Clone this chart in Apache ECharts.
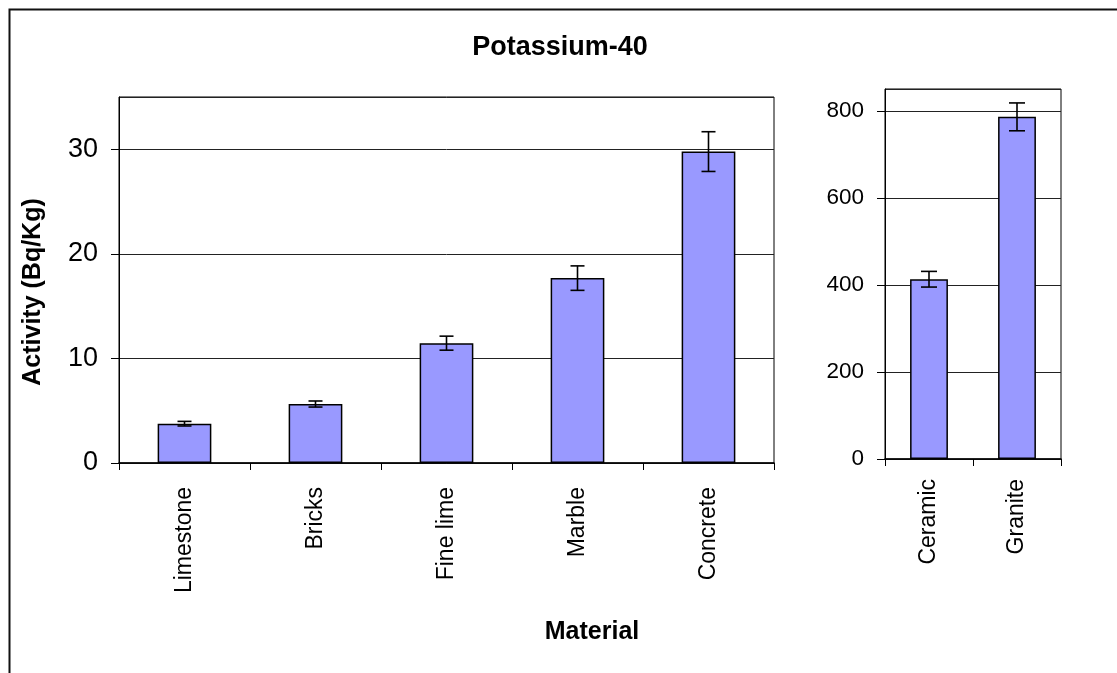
<!DOCTYPE html>
<html>
<head>
<meta charset="utf-8">
<script src="https://cdn.jsdelivr.net/npm/echarts@6/dist/echarts.min.js"></script>
<style>
html,body{margin:0;padding:0;background:#fff;}
#c{width:1117px;height:673px;}
</style>
</head>
<body>
<div id="c"></div>
<script>
const leftCategories = ['Limestone', 'Bricks', 'Fine lime', 'Marble', 'Concrete'];
const leftValues = [3.76, 5.64, 11.46, 17.68, 29.78];
const leftErrors = [0.22, 0.29, 0.67, 1.17, 1.9];
const rightCategories = ['Ceramic', 'Granite'];
const rightValues = [413, 786];
const rightErrors = [18, 32];
const titleText = 'Potassium-40';
const xTitle = 'Material';
const yTitle = 'Activity (Bq/Kg)';

const FONT = '"Liberation Sans", Arial, sans-serif';
const BAR = '#9999FF';

function errorItem(capHalf) {
  return function (params, api) {
    const i = api.value(0), v = api.value(1), e = api.value(2);
    const top = api.coord([i, v + e]);
    const bot = api.coord([i, v - e]);
    const x = top[0];
    const style = { stroke: '#000', lineWidth: 1.6 };
    return {
      type: 'group',
      children: [
        { type: 'line', shape: { x1: x, y1: top[1], x2: x, y2: bot[1] }, style },
        { type: 'line', shape: { x1: x - capHalf, y1: top[1], x2: x + capHalf, y2: top[1] }, style },
        { type: 'line', shape: { x1: x - capHalf, y1: bot[1], x2: x + capHalf, y2: bot[1] }, style }
      ]
    };
  };
}

function valueAxis(gridIndex, max, interval, fontSize, margin) {
  return {
    type: 'value', gridIndex, min: 0, max, interval,
    axisLine: { show: true, lineStyle: { color: '#000', width: 1 } },
    axisTick: { show: true, inside: false, length: 8, lineStyle: { color: '#000' } },
    axisLabel: { color: '#000', fontSize, fontFamily: FONT, margin, showMaxLabel: false },
    splitLine: { show: true, lineStyle: { color: '#222', width: 1 } }
  };
}

function catAxis(gridIndex, data, margin) {
  return {
    type: 'category', gridIndex, data,
    axisLine: { show: true, lineStyle: { color: '#000', width: 1.5 } },
    axisTick: { show: true, alignWithLabel: false, length: 7, lineStyle: { color: '#000' } },
    axisLabel: { color: '#000', fontSize: 23, fontFamily: FONT, rotate: 90, margin, interval: 0 },
    splitLine: { show: false }
  };
}

const chart = echarts.init(document.getElementById('c'), null, { renderer: 'canvas' });
chart.setOption({
  backgroundColor: '#fff',
  animation: false,
  grid: [
    { left: 119, top: 97, width: 655, height: 366, show: true, borderColor: '#000', borderWidth: 1, backgroundColor: '#fff' },
    { left: 885, top: 89, width: 176, height: 370, show: true, borderColor: '#000', borderWidth: 1, backgroundColor: '#fff' }
  ],
  xAxis: [catAxis(0, leftCategories, 24), catAxis(1, rightCategories, 20)],
  yAxis: [valueAxis(0, 35, 10, 27, 21), valueAxis(1, 850, 200, 22.5, 21)],
  series: [
    {
      type: 'bar', xAxisIndex: 0, yAxisIndex: 0, data: leftValues, barWidth: '41%',
      itemStyle: { color: BAR, borderColor: '#000', borderWidth: 1.5 }
    },
    {
      type: 'custom', xAxisIndex: 0, yAxisIndex: 0,
      data: leftValues.map((v, i) => [i, v, leftErrors[i]]),
      renderItem: errorItem(7), z: 5
    },
    {
      type: 'bar', xAxisIndex: 1, yAxisIndex: 1, data: rightValues, barWidth: '43%',
      itemStyle: { color: BAR, borderColor: '#000', borderWidth: 1.5 }
    },
    {
      type: 'custom', xAxisIndex: 1, yAxisIndex: 1,
      data: rightValues.map((v, i) => [i, v, rightErrors[i]]),
      renderItem: errorItem(8), z: 5
    }
  ],
  graphic: [
    { type: 'rect', left: 7, top: 7, shape: { width: 1130, height: 700 }, style: { fill: 'none', stroke: '#111', lineWidth: 2 }, z: -1 },
    { type: 'text', x: 560, y: 48, style: { text: titleText, font: 'bold 27px ' + FONT, fill: '#000', align: 'center', verticalAlign: 'middle' } },
    { type: 'text', x: 592, y: 632, style: { text: xTitle, font: 'bold 25px ' + FONT, fill: '#000', align: 'center', verticalAlign: 'middle' } },
    { type: 'text', x: 33, y: 292, rotation: Math.PI / 2, style: { text: yTitle, font: 'bold 25px ' + FONT, fill: '#000', align: 'center', verticalAlign: 'middle' } }
  ]
});
</script>
</body>
</html>
